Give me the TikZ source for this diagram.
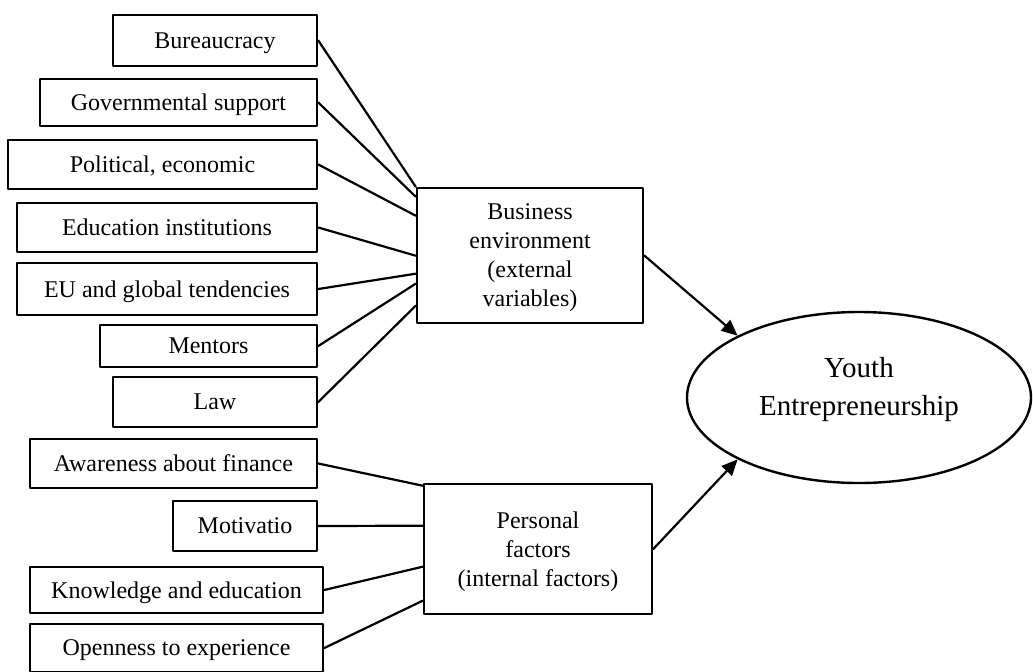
\documentclass[tikz,border=0pt]{standalone}
\usepackage{fontspec}
\setmainfont{Liberation Serif}
\usetikzlibrary{shapes.geometric,arrows.meta}

\begin{document}
\begin{tikzpicture}[x=0.5pt,y=-0.5pt,line width=1.1pt,line cap=round,line join=round,
  factor/.style={draw,line width=1.3pt,inner sep=0pt,text depth=0pt,align=center,font=\fontsize{12}{14.5}\selectfont},
  goal/.style={draw,ellipse,line width=1.2pt,inner sep=0pt,text depth=11pt,align=center,font=\fontsize{14.5}{19}\selectfont},
  tip/.style={-{Triangle[length=8pt,width=7pt]}}]
\useasboundingbox (0,0) rectangle (1033,671);
% external variables
\node[factor,minimum width=102pt,minimum height=25.5pt] (bur) at (215,40.5) {Bureaucracy};
\node[factor,minimum width=138.5pt,minimum height=23.5pt] (gov) at (178.5,102.5) {Governmental support};
\node[factor,minimum width=154.5pt,minimum height=24.5pt] (pol) at (162.5,164.5) {Political, economic};
\node[factor,minimum width=150pt,minimum height=24.5pt] (edu) at (167,227.5) {Education institutions};
\node[factor,minimum width=150pt,minimum height=26pt] (eu) at (167,289) {EU and global tendencies};
\node[factor,minimum width=108.5pt,minimum height=21pt] (ment) at (208.5,346) {Mentors};
\node[factor,minimum width=102pt,minimum height=25pt] (law) at (215,402) {Law};
% internal factors
\node[factor,minimum width=143.5pt,minimum height=24.5pt] (aware) at (173.5,463.5) {Awareness about finance};
\node[factor,minimum width=72pt,minimum height=25pt] (motiv) at (245,526) {Motivatio};
\node[factor,minimum width=146.5pt,minimum height=23pt] (know) at (176.5,590) {Knowledge and education};
\node[factor,minimum width=146.5pt,minimum height=24pt] (open) at (176.5,648) {Openness to experience};
% groups and outcome
\node[factor,minimum width=113pt,minimum height=67.5pt] (bus) at (530,255.5) {Business\\environment\\(external\\variables)};
\node[factor,minimum width=114pt,minimum height=65pt] (pers) at (538,549) {Personal\\factors\\(internal factors)};
\node[goal,minimum width=172pt,minimum height=85.5pt] (yo) at (859,397.5) {Youth\\Entrepreneurship};

\draw (bur.east) -- (bus.north west)
(gov.east) -- ([yshift=-5pt]bus.north west)
(pol.east) -- ([yshift=-14.5pt]bus.north west)
(edu.east) -- ([yshift=-34.5pt]bus.north west)
(eu.east) -- ([yshift=-43.5pt]bus.north west)
(ment.east) -- ([yshift=-48.5pt]bus.north west)
(law.east) -- ([yshift=-59.5pt]bus.north west);
\draw (aware.east) -- ([yshift=-1.5pt]pers.north west)
(motiv.east) -- ([yshift=-21.5pt]pers.north west)
(know.east) -- ([yshift=-42pt]pers.north west)
(open.east) -- ([yshift=-59pt]pers.north west);
\draw[tip] (bus.east) -- (yo.153);
\draw[tip] (pers.east) -- (yo.207);
\end{tikzpicture}
\end{document}
